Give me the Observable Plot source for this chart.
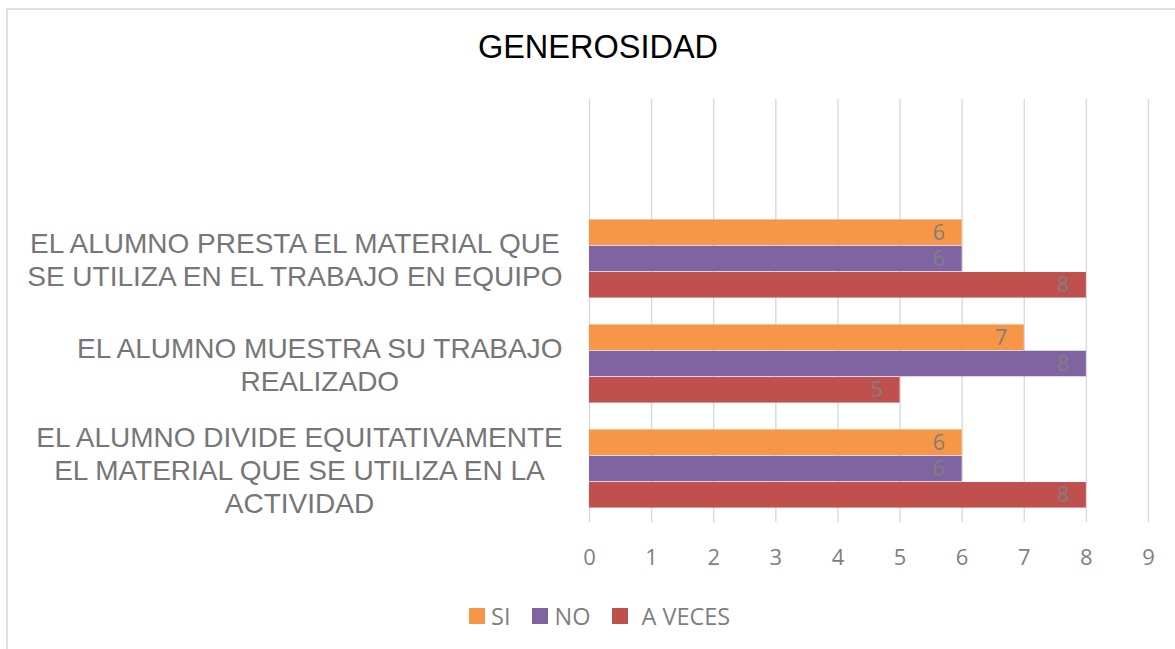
<!DOCTYPE html>
<html>
<head>
<meta charset="utf-8">
<script src="https://cdn.jsdelivr.net/npm/d3@7"></script>
<script src="https://cdn.jsdelivr.net/npm/@observablehq/plot@0.6"></script>
<style>
  body { margin: 0; background: #fff; }
  #wrap { position: relative; width: 1175px; height: 649px; overflow: hidden; background: #fff; }
  #frame { position: absolute; left: 6px; top: 8px; width: 1200px; height: 700px; border-left: 2px solid #e2e2e2; border-top: 2px solid #e2e2e2; }
  #title { position: absolute; left: 0; width: 1196px; top: 31px; line-height: 32px; text-align: center; font-family: "Liberation Sans", Arial, sans-serif; font-size: 32.5px; color: #000; }
  #chart { position: absolute; left: 0; top: 0; }
  #legend { position: absolute; left: 469px; top: 602px; display: flex; align-items: center; font-family: "Open Sans", sans-serif; font-size: 23.5px; color: #7f7f7f; line-height: 28px; }
  #legend .sw { width: 16px; height: 16px; display: inline-block; margin-right: 6px; }
  #legend .item { display: flex; align-items: center; margin-right: 22px; }
</style>
</head>
<body>
<div id="wrap">
  <div id="frame"></div>
  <div id="title"></div>
  <div id="chart"></div>
  <div id="legend"></div>
</div>
<script>
const titleText = "GENEROSIDAD";
const categories = [
  "EL ALUMNO PRESTA EL MATERIAL QUE SE UTILIZA EN EL TRABAJO EN EQUIPO",
  "EL ALUMNO MUESTRA SU TRABAJO REALIZADO",
  "EL ALUMNO DIVIDE EQUITATIVAMENTE EL MATERIAL QUE SE UTILIZA EN LA ACTIVIDAD"
];
const categoryLabels = [
  "EL ALUMNO PRESTA EL MATERIAL QUE\nSE UTILIZA EN EL TRABAJO EN EQUIPO",
  "EL ALUMNO MUESTRA SU TRABAJO\nREALIZADO",
  "EL ALUMNO DIVIDE EQUITATIVAMENTE\nEL MATERIAL QUE SE UTILIZA EN LA\nACTIVIDAD"
];
const seriesNames = ["SI", "NO", "A VECES"];
const seriesColors = ["#F79646", "#8064A2", "#C0504D"];
const valuesSI = [6, 7, 6];
const valuesNO = [6, 8, 6];
const valuesAVeces = [8, 5, 8];
const xTicks = [0, 1, 2, 3, 4, 5, 6, 7, 8, 9];

const seriesValues = [valuesSI, valuesNO, valuesAVeces];
const rows = [];
seriesNames.forEach((s, i) => {
  categories.forEach((c, j) => rows.push({category: c, series: s, si: i, value: seriesValues[i][j]}));
});

document.getElementById("title").textContent = titleText;

const W = 1175, H = 580;
const mTop = 99, mBottom = 58, mLeft = 589, mRight = 27;
const yDomain = [""].concat(categories);
const band = (H - mTop - mBottom) / yDomain.length;
const barH = 26.3;
const pad = (band - barH * seriesNames.length) / 2;
const labelMap = new Map(categories.map((c, i) => [c, categoryLabels[i]]));

const marks = [
  Plot.gridX(xTicks, {stroke: "#d9d9d9", strokeOpacity: 1, strokeWidth: 1.4})
];
seriesNames.forEach((s, i) => {
  const data = rows.filter(d => d.series === s);
  marks.push(Plot.barX(data, {
    x: "value", y: "category", fill: seriesColors[i],
    insetTop: pad + i * barH,
    insetBottom: pad + (seriesNames.length - 1 - i) * barH
  }));
  marks.push(Plot.text(data, {
    x: "value", y: "category", text: d => String(d.value),
    textAnchor: "end", dx: -17,
    dy: -band / 2 + pad + barH * (i + 0.5),
    fill: "#7f7f7f", fontSize: 21.5, fontFamily: "Open Sans"
  }));
});
marks.push(Plot.axisX(xTicks, {
  tickSize: 0, tickPadding: 27, fontSize: 22, fontFamily: "Open Sans",
  fill: "#7f7f7f", label: null
}));
marks.push(Plot.axisY({
  tickSize: 0, tickPadding: 27, fontSize: 28, fontFamily: "Liberation Sans",
  lineHeight: 1.18, fill: "#767676", label: null,
  tickFormat: d => labelMap.get(d) || ""
}));

const plot = Plot.plot({
  width: W, height: H,
  marginTop: mTop, marginBottom: mBottom, marginLeft: mLeft, marginRight: mRight,
  x: {domain: [0, 9]},
  y: {domain: yDomain, type: "band", padding: 0},
  style: {background: "transparent", overflow: "visible"},
  marks
});
document.getElementById("chart").appendChild(plot);

// centre multi-line category labels as a block (right edges aligned to the longest line)
plot.querySelectorAll('g[aria-label="y-axis tick label"] text').forEach(t => {
  const bb = t.getBBox();
  t.setAttribute("text-anchor", "middle");
  const cx = bb.x + bb.width / 2;
  const tspans = t.querySelectorAll("tspan");
  if (tspans.length) tspans.forEach(ts => ts.setAttribute("x", cx));
  else t.setAttribute("x", cx);
});

const legend = document.getElementById("legend");
seriesNames.forEach((s, i) => {
  const item = document.createElement("div");
  item.className = "item";
  const sw = document.createElement("span");
  sw.className = "sw";
  sw.style.background = seriesColors[i];
  if (i === 2) sw.style.marginRight = "13px";
  const tx = document.createElement("span");
  tx.textContent = s;
  item.appendChild(sw);
  item.appendChild(tx);
  legend.appendChild(item);
});
</script>
</body>
</html>
